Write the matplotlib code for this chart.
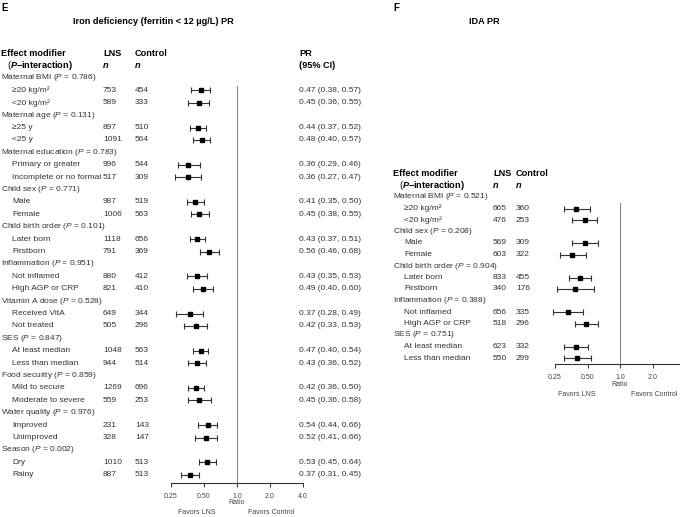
import matplotlib
matplotlib.use("Agg")
import matplotlib.pyplot as plt
from matplotlib.transforms import blended_transform_factory

plt.rcParams['font.family'] = ['Liberation Sans', 'DejaVu Sans']
plt.rcParams['mathtext.fontset'] = 'custom'
plt.rcParams['mathtext.rm'] = 'Liberation Sans'
plt.rcParams['mathtext.it'] = 'Liberation Sans:italic'
plt.rcParams['mathtext.bf'] = 'Liberation Sans:bold'
plt.rcParams['mathtext.bfit'] = 'Liberation Sans:bold:italic'

# panel E data
e_groups = ["Maternal BMI", "Maternal age", "Maternal education", "Child sex",
            "Child birth order", "Inflammation", "Vitamin A dose", "SES",
            "Food security", "Water quality", "Season"]
e_pvals = ["0.786", "0.131", "0.783", "0.771", "0.101", "0.951", "0.528",
           "0.847", "0.859", "0.976", "0.002"]
e_sub = ["≥20 kg/m²", "<20 kg/m²", "≥25 y", "<25 y", "Primary or greater",
         "Incomplete or no formal", "Male", "Female", "Later born", "Firstborn",
         "Not inflamed", "High AGP or CRP", "Received VitA", "Not treated",
         "At least median", "Less than median", "Mild to secure",
         "Moderate to severe", "Improved", "Unimproved", "Dry", "Rainy"]
e_lns = [753, 589, 897, 1091, 996, 517, 987, 1006, 1118, 791, 880, 821, 649, 505,
         1048, 944, 1269, 559, 231, 328, 1010, 887]
e_ctrl = [454, 333, 510, 564, 544, 309, 519, 563, 656, 369, 412, 410, 344, 296,
          563, 514, 696, 253, 143, 147, 513, 513]
e_pr = [0.47, 0.45, 0.44, 0.48, 0.36, 0.36, 0.41, 0.45, 0.43, 0.56, 0.43, 0.49,
        0.37, 0.42, 0.47, 0.43, 0.42, 0.45, 0.54, 0.52, 0.53, 0.37]
e_lo = [0.38, 0.36, 0.37, 0.40, 0.29, 0.27, 0.35, 0.38, 0.37, 0.46, 0.35, 0.40,
        0.28, 0.33, 0.40, 0.36, 0.36, 0.36, 0.44, 0.41, 0.45, 0.31]
e_hi = [0.57, 0.55, 0.52, 0.57, 0.46, 0.47, 0.50, 0.55, 0.51, 0.68, 0.53, 0.60,
        0.49, 0.53, 0.54, 0.52, 0.50, 0.58, 0.66, 0.66, 0.64, 0.45]

# panel F data
f_groups = ["Maternal BMI", "Child sex", "Child birth order", "Inflammation", "SES"]
f_pvals = ["0.521", "0.208", "0.904", "0.388", "0.751"]
f_sub = ["≥20 kg/m²", "<20 kg/m²", "Male", "Female", "Later born", "Firstborn",
         "Not inflamed", "High AGP or CRP", "At least median", "Less than median"]
f_lns = [665, 476, 569, 603, 833, 340, 656, 518, 623, 550]
f_ctrl = [360, 253, 309, 322, 455, 176, 335, 296, 332, 299]
f_pr = [0.39, 0.47, 0.47, 0.36, 0.43, 0.38, 0.33, 0.48, 0.39, 0.40]
f_lo = [0.30, 0.36, 0.36, 0.28, 0.34, 0.26, 0.24, 0.38, 0.30, 0.30]
f_hi = [0.53, 0.61, 0.63, 0.48, 0.54, 0.57, 0.45, 0.63, 0.50, 0.54]

ticks = [0.25, 0.5, 1.0, 2.0, 4.0]
e_tick_labels = ["0.25", "0.50", "1.0", "2.0", "4.0"]
f_tick_labels = ["0.25", "0.50", "1.0", "2.0", ""]  # 4.0 falls off the page

W, H = 680, 517
fig = plt.figure(figsize=(W / 100, H / 100), dpi=100)

TXT = '#333333'
FS = 6.0
HFS = 6.6


def ftext(x, y, s, **kw):
    # text placed in figure pixels (from top left)
    kw.setdefault('va', 'center')
    kw.setdefault('fontsize', FS)
    kw.setdefault('color', TXT)
    fig.text(x / W, 1 - y / H, s, **kw)


def forest(x0, x1, row0, dy, axis_y, top_y, line_row, label_x, lns_x, ctrl_x,
           groups, pvals, sub, lns, ctrl, pr, lo, hi, tick_labels, pr_x=None):
    r_top = 1 + (top_y - row0) / dy
    r_bot = 1 + (axis_y - row0) / dy
    ax = fig.add_axes([x0 / W, 1 - axis_y / H, (x1 - x0) / W, (axis_y - top_y) / H])
    ax.set_xscale('log', base=2)
    ax.set_xlim(0.25, 4)
    ax.set_ylim(r_bot, r_top)
    ax.patch.set_alpha(0)
    for s in ['top', 'right', 'left']:
        ax.spines[s].set_visible(False)
    ax.spines['bottom'].set_color('#333333')
    ax.spines['bottom'].set_linewidth(0.8)
    ax.set_yticks([])
    ax.set_xticks(ticks)
    ax.set_xticklabels(tick_labels)
    ax.minorticks_off()
    ax.tick_params(axis='x', length=3, width=0.7, color='#333333', labelsize=5,
                   labelcolor='#444444', pad=4)
    ax.plot([1, 1], [line_row, r_bot], color='#888888', lw=0.8, clip_on=False)

    rows = []
    for k in range(len(groups)):
        rows += [2 + 3 * k, 3 + 3 * k]
    xerr = [[p - l for p, l in zip(pr, lo)], [h - p for p, h in zip(pr, hi)]]
    ax.errorbar(pr, rows, xerr=xerr, fmt='s', ms=3.4, color='black',
                ecolor='#333333', elinewidth=0.8, capsize=2.3, capthick=0.8,
                clip_on=False)

    tr = blended_transform_factory(fig.transFigure, ax.transData)
    for k, g in enumerate(groups):
        fig.text(label_x / W, 1 + 3 * k, g + " ($\\mathit{P}$ = " + pvals[k] + ")",
                 transform=tr, va='center', fontsize=FS, color=TXT)
    for i, r in enumerate(rows):
        fig.text((label_x + 11) / W, r, sub[i], transform=tr, va='center',
                 fontsize=FS, color=TXT)
        fig.text(lns_x / W, r, str(lns[i]), transform=tr, va='center',
                 fontsize=FS, color=TXT)
        fig.text(ctrl_x / W, r, str(ctrl[i]), transform=tr, va='center',
                 fontsize=FS, color=TXT)
        if pr_x is not None:
            fig.text(pr_x / W, r, "%.2f (%.2f, %.2f)" % (pr[i], lo[i], hi[i]),
                     transform=tr, va='center', fontsize=FS, color=TXT)
    return ax


# panel E
ftext(1, 8, "E", fontsize=7, fontweight='bold', color='black')
ftext(153, 21, "Iron deficiency (ferritin < 12 µg/L) PR", ha='center',
      fontsize=HFS, fontweight='bold', color='black')
ftext(1, 54, "Effect modifier", fontsize=HFS, fontweight='bold', color='black')
ftext(7, 65, "($\\mathbfit{P}$$\\mathbf{−interaction)}$", fontsize=HFS, color='black')
ftext(103, 54, "LNS", fontsize=HFS, fontweight='bold', color='black')
ftext(135, 54, "Control", fontsize=HFS, fontweight='bold', color='black')
ftext(103, 65, "n", fontsize=HFS, fontweight='bold', style='italic', color='black')
ftext(135, 65, "n", fontsize=HFS, fontweight='bold', style='italic', color='black')
ftext(299, 54, "PR", fontsize=HFS, fontweight='bold', color='black')
ftext(299, 65, "(95% CI)", fontsize=HFS, fontweight='bold', color='black')

forest(171, 303, 78, 12.4, 483, 70, 1.65, 1, 103, 135,
       e_groups, e_pvals, e_sub, e_lns, e_ctrl, e_pr, e_lo, e_hi,
       e_tick_labels, pr_x=299)
ftext(237, 503, "Ratio", ha='center', fontsize=5, color='#444444')
ftext(197, 513, "Favors LNS", ha='center', fontsize=5, color='#444444')
ftext(271, 513, "Favors Control", ha='center', fontsize=5, color='#444444')

# panel F
ftext(393, 8, "F", fontsize=7, fontweight='bold', color='black')
ftext(484, 21, "IDA PR", ha='center', fontsize=HFS, fontweight='bold', color='black')
ftext(393, 174, "Effect modifier", fontsize=HFS, fontweight='bold', color='black')
ftext(399, 186, "($\\mathbfit{P}$$\\mathbf{−interaction)}$", fontsize=HFS, color='black')
ftext(493, 174, "LNS", fontsize=HFS, fontweight='bold', color='black')
ftext(516, 174, "Control", fontsize=HFS, fontweight='bold', color='black')
ftext(493, 186, "n", fontsize=HFS, fontweight='bold', style='italic', color='black')
ftext(516, 186, "n", fontsize=HFS, fontweight='bold', style='italic', color='black')

forest(555, 685, 197, 11.5, 364, 190, 1.52, 393, 493, 516,
       f_groups, f_pvals, f_sub, f_lns, f_ctrl, f_pr, f_lo, f_hi, f_tick_labels)
ftext(620, 384, "Ratio", ha='center', fontsize=5, color='#444444')
ftext(577, 394, "Favors LNS", ha='center', fontsize=5, color='#444444')
ftext(677, 394, "Favors Control", ha='right', fontsize=5, color='#444444')

fig.savefig("out.png", dpi=100)
